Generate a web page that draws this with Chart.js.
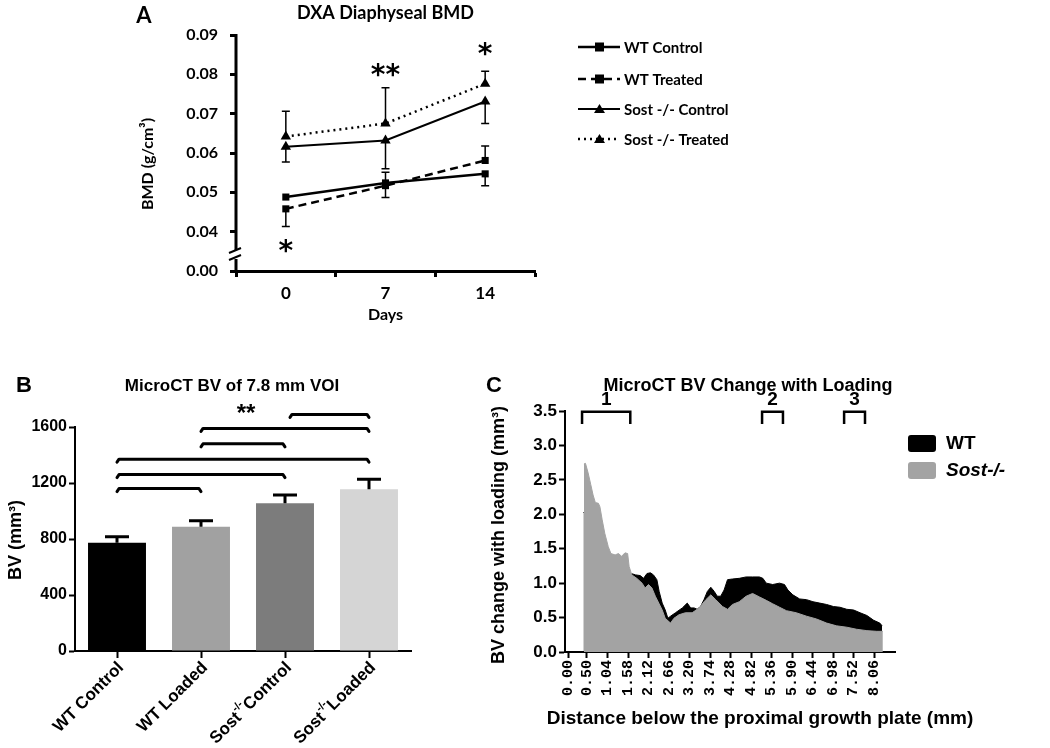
<!DOCTYPE html>
<html><head><meta charset="utf-8">
<script src="https://cdn.jsdelivr.net/npm/chart.js@4.4.1/dist/chart.umd.min.js"></script>
<style>
html,body{margin:0;padding:0;background:#fff;}
#wrap{position:relative;width:1050px;height:748px;overflow:hidden;background:#fff;}
canvas{position:absolute;}
</style></head><body>
<div id="wrap">
<canvas id="cA" width="1050" height="340" style="left:0;top:0"></canvas>
<canvas id="cB" width="480" height="408" style="left:0;top:340px"></canvas>
<canvas id="cC" width="570" height="408" style="left:480px;top:340px"></canvas>
</div>
<script>
// ---------------- Panel A data ----------------
const days = [0, 7, 14];
const dayAxisTicks = [-3.5, 0, 3.5, 7, 10.5, 14, 17.5];
const bmdTickValues = [0.03, 0.04, 0.05, 0.06, 0.07, 0.08, 0.09];
const bmdTickLabels = ['0.00', '0.04', '0.05', '0.06', '0.07', '0.08', '0.09'];
const seriesNamesA = ['WT Control', 'WT Treated', 'Sost -/- Control', 'Sost -/- Treated'];
const wtControl = [0.0488, 0.0524, 0.0547];
const wtTreated = [0.0458, 0.0517, 0.0581];
const sostControl = [0.0616, 0.0632, 0.0731];
const sostTreated = [0.0642, 0.0675, 0.0776];
const wtControlErrUp = [0, 0.0027, 0];
const wtControlErrDown = [0, 0, 0.0030];
const wtTreatedErrUp = [0, 0, 0.0037];
const wtTreatedErrDown = [0.0045, 0.0030, 0];
const sostControlErrUp = [0, 0, 0];
const sostControlErrDown = [0.0039, 0.0072, 0.0056];
const sostTreatedErrUp = [0.0064, 0.0091, 0.0032];
const sostTreatedErrDown = [0, 0, 0];
const starDaysA = [0, 7, 14];
const starValuesA = [0.0369, 0.0818, 0.0869];
const starLabelsA = ['*', '**', '*'];

// ---------------- Panel B data ----------------
const groupsB = ['WT Control', 'WT Loaded', 'Sost-/- Control', 'Sost-/- Loaded'];
const labelPreB = ['WT Control', 'WT Loaded', 'Sost', 'Sost'];
const labelSupB = ['', '', '-/-', '-/-'];
const labelPostB = ['', '', 'Control', 'Loaded'];
const bvMeans = [773, 888, 1055, 1155];
const bvErr = [43, 43, 59, 71];
const bvTicks = [0, 400, 800, 1200, 1600];
const sigFrom = [0, 0, 0, 1, 1, 2];
const sigTo = [1, 2, 3, 2, 3, 3];
const sigLevel = [1160, 1260, 1370, 1480, 1590, 1690];
const starPosB = [1.5];
const starValB = [1750];
const starLabelB = ['**'];

// ---------------- Panel C data ----------------
const distTicks = [0, 0.50, 1.04, 1.58, 2.12, 2.66, 3.20, 3.74, 4.28, 4.82, 5.36, 5.90, 6.44, 6.98, 7.52, 8.06];
const bvChangeTicks = [0, 0.5, 1.0, 1.5, 2.0, 2.5, 3.0, 3.5];
const sostDist = [0.42,0.46,0.53,0.60,0.66,0.72,0.80,0.84,0.90,0.97,1.06,1.13,1.24,1.33,1.41,1.50,1.57,1.61,1.68,1.81,1.95,2.03,2.12,2.21,2.30,2.39,2.48,2.56,2.70,2.79,2.92,3.09,3.27,3.45,3.63,3.76,3.89,4.07,4.20,4.33,4.51,4.69,4.86,5.04,5.22,5.39,5.57,5.75,6.01,6.28,6.54,6.81,7.07,7.34,7.60,7.87,8.13,8.29];
const sostBV   = [2.73,2.74,2.60,2.43,2.28,2.17,2.16,2.11,1.92,1.72,1.53,1.43,1.41,1.43,1.39,1.44,1.43,1.24,1.12,1.07,1.00,0.93,0.98,0.93,0.81,0.71,0.61,0.49,0.42,0.49,0.54,0.57,0.57,0.64,0.76,0.83,0.76,0.66,0.62,0.69,0.73,0.81,0.85,0.80,0.75,0.70,0.65,0.60,0.57,0.52,0.48,0.42,0.38,0.36,0.33,0.31,0.30,0.30];
const wtDist = [0.41,0.60,0.80,1.00,1.20,1.40,1.60,1.78,1.90,1.99,2.08,2.17,2.25,2.34,2.40,2.48,2.56,2.63,2.70,2.83,3.01,3.14,3.23,3.32,3.40,3.49,3.58,3.67,3.76,3.85,3.93,4.02,4.11,4.20,4.33,4.51,4.69,4.86,5.04,5.13,5.22,5.39,5.57,5.70,5.79,5.92,6.10,6.28,6.45,6.63,6.81,6.99,7.16,7.34,7.52,7.69,7.87,8.05,8.21,8.27];
const wtBV   = [2.03,1.90,1.70,1.50,1.35,1.25,1.15,1.12,1.11,1.07,1.14,1.15,1.12,1.05,0.88,0.71,0.61,0.49,0.52,0.57,0.64,0.71,0.64,0.64,0.62,0.66,0.76,0.88,0.94,0.88,0.81,0.81,0.90,1.05,1.06,1.07,1.09,1.09,1.09,1.07,1.00,0.98,1.00,0.98,0.90,0.83,0.77,0.76,0.73,0.71,0.69,0.66,0.65,0.62,0.61,0.57,0.53,0.46,0.42,0.38];
const regionStart = [0.37, 5.11, 7.27];
const regionEnd = [1.64, 5.66, 7.82];
const regionLabel = ['1', '2', '3'];

// ---------------- helpers ----------------
const CAL = 'Lato, "Open Sans", sans-serif';
const ARI = '"Liberation Sans", Arial, sans-serif';
function txt(ctx, s, x, y, font, align, base, color) {
  ctx.save(); ctx.font = font; ctx.fillStyle = color || '#000';
  ctx.textAlign = align || 'center'; ctx.textBaseline = base || 'middle';
  ctx.fillText(s, x, y); ctx.restore();
}
function vtxt(ctx, s, x, y, font) {
  ctx.save(); ctx.translate(x, y); ctx.rotate(-Math.PI / 2);
  ctx.font = font; ctx.fillStyle = '#000'; ctx.textAlign = 'center'; ctx.textBaseline = 'middle';
  ctx.fillText(s, 0, 0); ctx.restore();
}
const pts = (xs, ys) => xs.map((x, i) => ({x: x, y: ys[i]}));

// ---------------- Chart A ----------------
const styleA = [
  {dash: [], style: 'rect', width: 2.5, r: 5},
  {dash: [8, 5], style: 'rect', width: 2.5, r: 5},
  {dash: [], style: 'triangle', width: 2, r: 6},
  {dash: [2, 4], style: 'triangle', width: 2.5, r: 6}
];
const valsA = [wtControl, wtTreated, sostControl, sostTreated];
const errUpA = [wtControlErrUp, wtTreatedErrUp, sostControlErrUp, sostTreatedErrUp];
const errDnA = [wtControlErrDown, wtTreatedErrDown, sostControlErrDown, sostTreatedErrDown];

const pluginA = {
  id: 'decoA',
  afterDatasetsDraw(chart) {
    const ctx = chart.ctx, xs = chart.scales.x, ys = chart.scales.y;
    ctx.save(); ctx.strokeStyle = '#000'; ctx.lineWidth = 1.5;
    valsA.forEach((vals, si) => {
      vals.forEach((v, i) => {
        const px = xs.getPixelForValue(days[i]);
        [[errUpA[si][i], 1], [errDnA[si][i], -1]].forEach(([e, dir]) => {
          if (!e) return;
          const y0 = ys.getPixelForValue(v), y1 = ys.getPixelForValue(v + dir * e);
          ctx.beginPath(); ctx.moveTo(px, y0); ctx.lineTo(px, y1);
          ctx.moveTo(px - 4, y1); ctx.lineTo(px + 4, y1); ctx.stroke();
        });
      });
    });
    ctx.restore();
  },
  afterDraw(chart) {
    const ctx = chart.ctx, a = chart.chartArea, xs = chart.scales.x, ys = chart.scales.y;
    ctx.save(); ctx.strokeStyle = '#000'; ctx.lineWidth = 3;
    const x = a.left;
    ctx.beginPath(); ctx.moveTo(x, a.top - 1); ctx.lineTo(x, 250); ctx.moveTo(x, 259); ctx.lineTo(x, a.bottom + 1.5); ctx.stroke();
    ctx.lineWidth = 2;
    ctx.beginPath(); ctx.moveTo(x - 7, 253); ctx.lineTo(x + 5, 248); ctx.moveTo(x - 7, 260); ctx.lineTo(x + 5, 255); ctx.stroke();
    ctx.restore();
    txt(ctx, 'A', 144, 16, 'bold 22px ' + CAL);
    txt(ctx, 'DXA Diaphyseal BMD', (a.left + a.right) / 2, 13, 'bold 18px ' + CAL);
    vtxt(ctx, 'BMD (g/cm\u00B3)', 148, 164, 'bold 16px ' + CAL);
    txt(ctx, 'Days', xs.getPixelForValue(7), 315, 'bold 16px ' + CAL);
    starDaysA.forEach((d, i) => {
      txt(ctx, starLabelsA[i], xs.getPixelForValue(d), ys.getPixelForValue(starValuesA[i]) + 9, 'bold 28px "DejaVu Sans", sans-serif', 'center', 'middle');
    });
    const rows = [47, 79, 109, 139];
    chart.data.datasets.forEach((ds, i) => {
      const y = rows[i], st = styleA[i];
      ctx.save(); ctx.strokeStyle = '#000'; ctx.lineWidth = st.width; ctx.setLineDash(st.dash);
      ctx.beginPath(); ctx.moveTo(578, y); ctx.lineTo(620, y); ctx.stroke(); ctx.setLineDash([]);
      ctx.fillStyle = '#000';
      if (st.style === 'rect') { ctx.fillRect(595, y - 4.5, 9, 9); }
      else { ctx.beginPath(); ctx.moveTo(599.5, y - 5); ctx.lineTo(605, y + 4); ctx.lineTo(594, y + 4); ctx.closePath(); ctx.fill(); }
      ctx.restore();
      txt(ctx, ds.label, 624, y + 1, 'bold 15px ' + CAL, 'left', 'middle');
    });
  }
};

new Chart(document.getElementById('cA'), {
  type: 'line',
  data: {
    datasets: valsA.map((vals, i) => ({
      label: seriesNamesA[i],
      data: pts(days, vals),
      borderColor: '#000', backgroundColor: '#000',
      borderWidth: styleA[i].width, borderDash: styleA[i].dash,
      pointStyle: styleA[i].style, pointRadius: styleA[i].r, pointBorderWidth: 0,
      tension: 0, fill: false
    }))
  },
  options: {
    responsive: false, animation: false, events: [],
    layout: {padding: {left: 0, right: 515, top: 35, bottom: 0}},
    plugins: {legend: {display: false}, tooltip: {enabled: false}, title: {display: false}},
    scales: {
      x: {
        type: 'linear', min: -3.5, max: 17.5,
        afterBuildTicks: s => { s.ticks = dayAxisTicks.map(v => ({value: v})); },
        afterFit: s => { s.height = 69; },
        border: {color: '#000', width: 3},
        grid: {drawOnChartArea: false, tickLength: 6, tickWidth: 3,
               tickColor: c => (c.tick && days.includes(c.tick.value)) ? 'rgba(0,0,0,0)' : '#000'},
        ticks: {autoSkip: false, maxRotation: 0, padding: 6, color: '#000',
                font: {family: CAL, weight: 'bold', size: 17},
                callback: v => days.includes(v) ? String(v) : ''}
      },
      y: {
        min: 0.03, max: 0.09,
        afterBuildTicks: s => { s.ticks = bmdTickValues.map(v => ({value: v})); },
        afterFit: s => { s.width = 236; },
        border: {display: false},
        grid: {drawOnChartArea: false, tickLength: 6, tickWidth: 3, tickColor: '#000'},
        ticks: {padding: 12, color: '#000', font: {family: CAL, weight: 'bold', size: 16},
                callback: (v, i) => bmdTickLabels[i]}
      }
    }
  },
  plugins: [pluginA]
});

// ---------------- Chart B ----------------
const colorsB = ['#000000', '#a1a1a1', '#7c7c7c', '#d5d5d5'];
const pluginB = {
  id: 'decoB',
  afterDatasetsDraw(chart) {
    const ctx = chart.ctx, ys = chart.scales.y, meta = chart.getDatasetMeta(0);
    ctx.save(); ctx.strokeStyle = '#000'; ctx.lineWidth = 3;
    bvMeans.forEach((v, i) => {
      const px = meta.data[i].x, y0 = ys.getPixelForValue(v), y1 = ys.getPixelForValue(v + bvErr[i]);
      ctx.beginPath(); ctx.moveTo(px, y0); ctx.lineTo(px, y1); ctx.moveTo(px - 12, y1); ctx.lineTo(px + 12, y1); ctx.stroke();
    });
    ctx.restore();
  },
  afterDraw(chart) {
    const ctx = chart.ctx, a = chart.chartArea, xs = chart.scales.x, ys = chart.scales.y;
    const meta = chart.getDatasetMeta(0);
    ctx.save(); ctx.strokeStyle = '#000'; ctx.lineWidth = 3; ctx.lineCap = 'round'; ctx.lineJoin = 'round';
    sigLevel.forEach((lv, i) => {
      const x0 = meta.data[sigFrom[i]].x + (i === 5 ? 5 : 0), x1 = meta.data[sigTo[i]].x, y = ys.getPixelForValue(lv);
      ctx.beginPath(); ctx.moveTo(x0, y + 3); ctx.lineTo(x0 + 2, y); ctx.lineTo(x1 - 2, y); ctx.lineTo(x1, y + 3); ctx.stroke();
    });
    ctx.restore();
    starPosB.forEach((p, i) => {
      txt(ctx, starLabelB[i], xs.getPixelForValue(p) + 3, ys.getPixelForValue(starValB[i]) + 8, 'bold 24px ' + ARI);
    });
    txt(ctx, 'B', 24, 46, 'bold 22px ' + ARI);
    txt(ctx, 'MicroCT BV of 7.8 mm VOI', 232, 46, 'bold 17px ' + ARI);
    vtxt(ctx, 'BV (mm\u00B3)', 16, 200, 'bold 18px ' + ARI);
    const f = 'bold 17px ' + ARI, fs = 'bold 11px ' + ARI;
    labelPreB.forEach((pre, i) => {
      const px = meta.data[i].x;
      ctx.save(); ctx.translate(px + 4, a.bottom + 14); ctx.rotate(-Math.PI / 4);
      ctx.fillStyle = '#000'; ctx.textBaseline = 'middle'; ctx.textAlign = 'left';
      ctx.font = f; const w1 = ctx.measureText(pre).width, w3 = ctx.measureText(labelPostB[i]).width;
      ctx.font = fs; const w2 = ctx.measureText(labelSupB[i]).width;
      let x = -(w1 + w2 + w3);
      ctx.font = f; ctx.fillText(pre, x, 0); x += w1;
      ctx.font = fs; ctx.fillText(labelSupB[i], x, -7); x += w2;
      ctx.font = f; ctx.fillText(labelPostB[i], x, 0);
      ctx.restore();
    });
  }
};

new Chart(document.getElementById('cB'), {
  type: 'bar',
  data: {
    labels: groupsB,
    datasets: [{label: 'BV', data: bvMeans, backgroundColor: colorsB, borderWidth: 0,
                barPercentage: 0.69, categoryPercentage: 1.0}]
  },
  options: {
    responsive: false, animation: false, events: [],
    layout: {padding: {left: 0, right: 69, top: 87, bottom: 0}},
    plugins: {legend: {display: false}, tooltip: {enabled: false}},
    scales: {
      x: {
        afterFit: s => { s.height = 97; },
        border: {color: '#000', width: 2},
        grid: {offset: false, drawOnChartArea: false, tickLength: 7, tickWidth: 2, tickColor: '#000'},
        ticks: {callback: () => '', maxRotation: 0}
      },
      y: {
        min: 0, max: 1600,
        afterBuildTicks: s => { s.ticks = bvTicks.map(v => ({value: v})); },
        afterFit: s => { s.width = 75; },
        border: {color: '#000', width: 2},
        grid: {drawOnChartArea: false, tickLength: 6, tickWidth: 2, tickColor: '#000'},
        ticks: {padding: 2, color: '#000', font: {family: ARI, weight: 'bold', size: 16},
                callback: v => String(v)}
      }
    }
  },
  plugins: [pluginB]
});

// ---------------- Chart C ----------------
const pluginC = {
  id: 'decoC',
  afterDraw(chart) {
    const ctx = chart.ctx, a = chart.chartArea, xs = chart.scales.x, ys = chart.scales.y;
    txt(ctx, 'C', 14, 46, 'bold 22px ' + ARI);
    txt(ctx, 'MicroCT BV Change with Loading', 268, 46, 'bold 18px ' + ARI);
    vtxt(ctx, 'BV change with loading (mm\u00B3)', 19, 195, 'bold 18px ' + ARI);
    txt(ctx, 'Distance below the proximal growth plate (mm)', 280, 379, 'bold 19px ' + ARI);
    ctx.save(); ctx.strokeStyle = '#000'; ctx.lineWidth = 2.5;
    regionStart.forEach((s, i) => {
      const x0 = xs.getPixelForValue(s), x1 = xs.getPixelForValue(regionEnd[i]);
      const yt = ys.getPixelForValue(3.49), yb = ys.getPixelForValue(3.31);
      ctx.beginPath(); ctx.moveTo(x0, yb); ctx.lineTo(x0, yt); ctx.lineTo(x1, yt); ctx.lineTo(x1, yb); ctx.stroke();
      txt(ctx, regionLabel[i], (x0 + x1) / 2, ys.getPixelForValue(3.66), 'bold 19px ' + ARI);
    });
    ctx.restore();
    const items = [['WT', '#000000', 'bold 19px '], ['Sost-/-', '#a3a3a3', 'italic bold 19px ']];
    items.forEach((it, i) => {
      const y = 95 + i * 27;
      ctx.save(); ctx.fillStyle = it[1]; ctx.beginPath();
      if (ctx.roundRect) ctx.roundRect(428, y, 28, 17, 3); else ctx.rect(428, y, 28, 17);
      ctx.fill(); ctx.restore();
      txt(ctx, it[0], 466, y + 9, it[2] + ARI, 'left', 'middle');
    });
  }
};

new Chart(document.getElementById('cC'), {
  type: 'line',
  data: {
    datasets: [
      {label: 'WT', data: pts(wtDist, wtBV), borderColor: '#000', backgroundColor: '#000',
       borderWidth: 1, pointRadius: 0, fill: 'origin', tension: 0, order: 2},
      {label: 'Sost-/-', data: pts(sostDist, sostBV), borderColor: '#a3a3a3', backgroundColor: '#a3a3a3',
       borderWidth: 1, pointRadius: 0, fill: 'origin', tension: 0, order: 1}
    ]
  },
  options: {
    responsive: false, animation: false, events: [],
    layout: {padding: {left: 0, right: 155, top: 71, bottom: 0}},
    plugins: {legend: {display: false}, tooltip: {enabled: false}},
    scales: {
      x: {
        type: 'linear', min: -0.079, max: 8.61,
        afterBuildTicks: s => { s.ticks = distTicks.map(v => ({value: v})); },
        afterFit: s => { s.height = 96; },
        border: {color: '#000', width: 2},
        grid: {drawOnChartArea: false, tickLength: 6, tickWidth: 2, tickColor: '#000'},
        ticks: {autoSkip: false, minRotation: 90, maxRotation: 90, padding: 2, color: '#000',
                font: {family: '"Liberation Mono", monospace', weight: 'bold', size: 15},
                callback: v => Number(v).toFixed(2)}
      },
      y: {
        min: 0, max: 3.5,
        afterBuildTicks: s => { s.ticks = bvChangeTicks.map(v => ({value: v})); },
        afterFit: s => { s.width = 85; },
        border: {color: '#000', width: 2},
        grid: {drawOnChartArea: false, tickLength: 6, tickWidth: 2, tickColor: '#000'},
        ticks: {padding: 2, color: '#000', font: {family: ARI, weight: 'bold', size: 17},
                callback: v => Number(v).toFixed(1)}
      }
    }
  },
  plugins: [pluginC]
});
</script>
</body></html>
